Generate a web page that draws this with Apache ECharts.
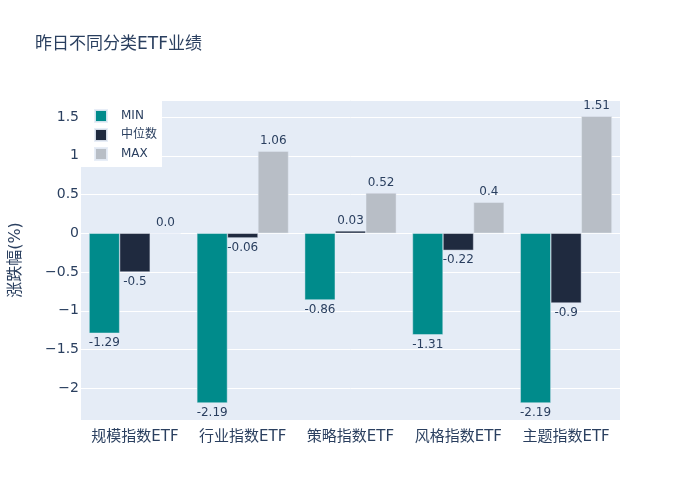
<!DOCTYPE html>
<html>
<head>
<meta charset="utf-8">
<script src="https://cdn.jsdelivr.net/npm/echarts@6/dist/echarts.min.js"></script>
<style>html,body{margin:0;padding:0;background:#fff}#c{width:700px;height:500px}</style>
</head>
<body>
<div id="c"></div>
<script>
const categories = ['规模指数ETF', '行业指数ETF', '策略指数ETF', '风格指数ETF', '主题指数ETF'];
const minValues = [-1.29, -2.19, -0.86, -1.31, -2.19];
const medianValues = [-0.5, -0.06, 0.03, -0.22, -0.9];
const maxValues = [0.0, 1.06, 0.52, 0.4, 1.51];
const seriesNames = ['MIN', '中位数', 'MAX'];
const colors = ['#008b8b', '#1f2a3f', '#b8bec6'];

const FONT = '"DejaVu Sans", "Noto Sans CJK SC", sans-serif';
const TXT = '#2a3f5f';

function fmtLabel(v) { return v === 0 ? '0.0' : String(v); }
function mkData(arr) {
  return arr.map(v => ({ value: v, label: { position: v < 0 ? 'bottom' : 'top' } }));
}
function mkSeries(name, arr, color) {
  return {
    name: name, type: 'bar', data: mkData(arr),
    itemStyle: { color: color, borderColor: 'rgba(229,236,246,0.9)', borderWidth: 0.5 },
    label: { show: true, color: TXT, fontSize: 12, fontFamily: FONT, distance: 4,
      formatter: p => fmtLabel(p.value) },
    barGap: '0%', barCategoryGap: '15%'
  };
}

const chart = echarts.init(document.getElementById('c'));
chart.setOption({
  backgroundColor: '#fff',
  animation: false,
  title: { text: '昨日不同分类ETF业绩', left: 30, top: 31,
    textStyle: { color: TXT, fontSize: 17, fontWeight: 'normal', fontFamily: FONT } },
  legend: {
    data: seriesNames, orient: 'vertical', left: 80, top: 100,
    backgroundColor: '#fff', padding: [9, 5, 6, 14], itemWidth: 12, itemHeight: 12, itemGap: 5,
    icon: 'rect',
    textStyle: { color: TXT, fontSize: 12, lineHeight: 12, fontFamily: FONT, padding: [0, 0, 0, 9] }
  },
  grid: { left: 80, right: 80, top: 100, bottom: 80, show: true, backgroundColor: '#e5ecf6', borderWidth: 0 },
  xAxis: {
    type: 'category', data: categories,
    axisLine: { show: false }, axisTick: { show: false },
    axisLabel: { color: TXT, fontSize: 15, fontFamily: FONT, margin: 10, interval: 0 }
  },
  yAxis: {
    type: 'value', min: -2.41, max: 1.72, splitNumber: 8, minInterval: 0.5, maxInterval: 0.5,
    name: '涨跌幅(%)', nameLocation: 'middle', nameGap: 57,
    nameTextStyle: { color: TXT, fontSize: 16, fontFamily: FONT },
    axisLine: { show: false }, axisTick: { show: false },
    splitLine: { lineStyle: { color: '#fff', width: 1 } },
    axisLabel: { color: TXT, fontSize: 14, fontFamily: FONT, margin: 2, showMinLabel: false, showMaxLabel: false,
      formatter: v => v < 0 ? '\u2212' + Math.abs(v) : String(v) }
  },
  series: [
    mkSeries(seriesNames[0], minValues, colors[0]),
    mkSeries(seriesNames[1], medianValues, colors[1]),
    mkSeries(seriesNames[2], maxValues, colors[2])
  ]
});
</script>
</body>
</html>
